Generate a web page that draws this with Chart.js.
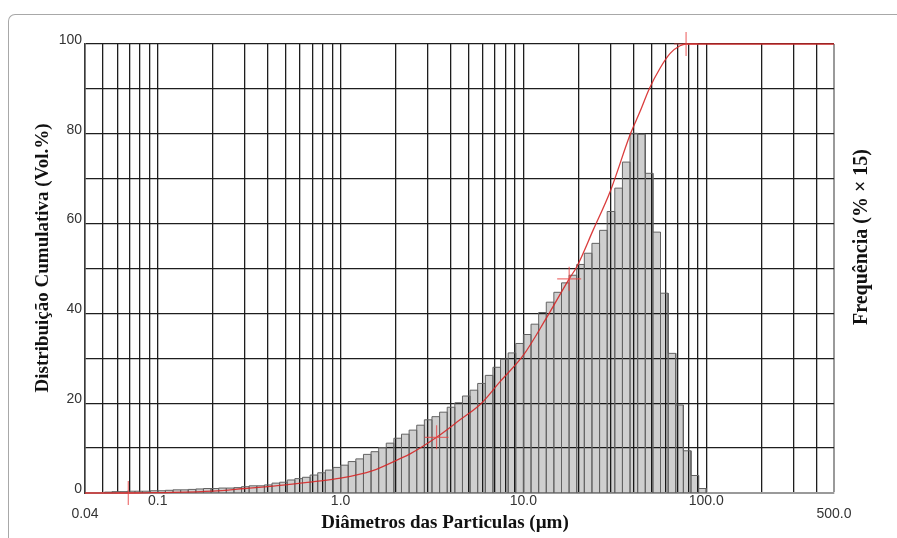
<!DOCTYPE html>
<html>
<head>
<meta charset="utf-8">
<script src="https://cdn.jsdelivr.net/npm/chart.js@4.4.1/dist/chart.umd.min.js"></script>
<style>
  html, body { margin: 0; padding: 0; background: #fff; }
  #wrap { position: relative; width: 897px; height: 538px; overflow: hidden; background: #fff; }
  #frame { position: absolute; left: 8px; top: 14px; width: 1000px; height: 1000px;
           border-top: 1.5px solid #a8a8a8; border-left: 1.5px solid #a8a8a8; border-top-left-radius: 7px; }
  canvas { position: absolute; left: 0; top: 0; }
</style>
</head>
<body>
<div id="wrap">
  <div id="frame"></div>
  <canvas id="c" width="897" height="538"></canvas>
</div>
<script>
// Histogram class edges (µm), 24 classes per decade
const binEdges = [
  0.0511, 0.0562, 0.0619, 0.0681, 0.0750, 0.0825, 0.0909,
  0.1, 0.1101, 0.1212, 0.1334, 0.1468, 0.1616, 0.1778, 0.1957, 0.2154, 0.2371, 0.2610, 0.2873,
  0.3162, 0.3481, 0.3831, 0.4217, 0.4642, 0.5109, 0.5623, 0.6190, 0.6813, 0.7499, 0.8254, 0.9085,
  1.0, 1.101, 1.212, 1.334, 1.468, 1.616, 1.778, 1.957, 2.154, 2.371, 2.610, 2.873,
  3.162, 3.481, 3.831, 4.217, 4.642, 5.109, 5.623, 6.190, 6.813, 7.499, 8.254, 9.085,
  10, 11.01, 12.12, 13.34, 14.68, 16.16, 17.78, 19.57, 21.54, 23.71, 26.10, 28.73,
  31.62, 34.81, 38.31, 42.17, 46.42, 51.09, 56.23, 61.90, 68.13, 74.99, 82.54, 90.85,
  100
];

// Frequency per class (% x 15)
const freq = [
  0.2, 0.3, 0.3, 0.4, 0.4, 0.4, 0.5,
  0.5, 0.6, 0.7, 0.7, 0.8, 0.9, 1.0, 1.0, 1.1, 1.1, 1.2, 1.4,
  1.6, 1.6, 1.8, 2.2, 2.4, 2.9, 3.2, 3.5, 4.0, 4.5, 5.1, 5.7,
  6.2, 7.0, 7.6, 8.6, 9.2, 10.1, 11.1, 12.2, 13.1, 14.0, 15.1, 16.3,
  17.0, 18.0, 19.1, 20.1, 21.6, 22.9, 24.4, 26.2, 28.0, 29.8, 31.2, 33.3,
  35.3, 37.6, 40.2, 42.5, 44.7, 46.8, 48.5, 50.9, 53.4, 55.6, 58.5, 62.7,
  67.9, 73.7, 80.1, 79.9, 71.2, 58.1, 44.5, 31.1, 19.6, 9.4, 3.9, 1.0
];

// Cumulative distribution (Vol.%)
const cumDiam = [0.04, 0.069, 0.1, 0.2, 0.3, 0.5, 0.7, 1.0, 1.5, 2.1, 2.4, 3.35, 4.5, 5.9, 7.45,
                 10, 13.2, 17.8, 19.6, 24.1, 29.8, 38.6, 43.5, 48.9, 55.9, 63.5, 71.9, 77.6, 500];
const cumVol  = [0, 0, 0.1, 0.4, 1.0, 1.8, 2.5, 3.3, 5.0, 7.6, 8.7, 12.4, 16.3, 20.0, 24.8,
                 30.7, 38.6, 47.7, 50.4, 58.6, 67.1, 80.1, 85.0, 90.1, 94.6, 97.9, 99.6, 100, 100];

// Marked points on the cumulative curve
const markDiam = [0.069, 3.35, 17.8, 77.6];
const markVol  = [0, 12.4, 47.7, 100];

// Axis ticks
const xGridTicks = [0.04, 0.05, 0.06, 0.07, 0.08, 0.09, 0.1, 0.2, 0.3, 0.4, 0.5, 0.6, 0.7, 0.8, 0.9,
                    1, 2, 3, 4, 5, 6, 7, 8, 9, 10, 20, 30, 40, 50, 60, 70, 80, 90,
                    100, 200, 300, 400, 500];
const xLabelValues = [0.04, 0.1, 1, 10, 100, 500];
const xLabelTexts  = ['0.04', '0.1', '1.0', '10.0', '100.0', '500.0'];
const xLowRow      = [0.04, 500];
const yLabelValues = [0, 20, 40, 60, 80, 100];

const xTitle = 'Diâmetros das Particulas (µm)';
const yTitle = 'Distribuição Cumulativa (Vol.%)';
const y2Title = 'Frequência (% × 15)';

// Histogram outline: each class becomes a closed step down to zero
const histPoints = [];
for (let i = 0; i < freq.length; i++) {
  histPoints.push({ x: binEdges[i], y: 0 });
  histPoints.push({ x: binEdges[i], y: freq[i] });
  histPoints.push({ x: binEdges[i + 1], y: freq[i] });
  histPoints.push({ x: binEdges[i + 1], y: 0 });
}

const titleFont = (px) => 'bold ' + px + 'px "Liberation Serif", "Times New Roman", serif';

const axisTitles = {
  id: 'axisTitles',
  afterDraw(chart) {
    const { ctx, chartArea: a } = chart;
    ctx.save();
    ctx.fillStyle = '#111';
    ctx.textAlign = 'center';
    ctx.textBaseline = 'middle';
    ctx.font = titleFont(19);
    ctx.fillText(xTitle, a.left + 360, a.bottom + 30);
    ctx.translate(a.left - 42, a.top + 214);
    ctx.rotate(-Math.PI / 2);
    ctx.fillText(yTitle, 0, 0);
    ctx.restore();
    ctx.save();
    ctx.fillStyle = '#111';
    ctx.textAlign = 'center';
    ctx.textBaseline = 'middle';
    ctx.font = titleFont(20);
    ctx.translate(a.right + 28, a.top + 193);
    ctx.rotate(-Math.PI / 2);
    ctx.fillText(y2Title, 0, 0);
    ctx.restore();
  }
};

const tickFont = { family: '"Liberation Sans", Arial, sans-serif', size: 14, lineHeight: 0.93 };

new Chart(document.getElementById('c'), {
  type: 'line',
  data: {
    datasets: [
      {
        label: 'Pontos',
        type: 'scatter',
        data: markDiam.map((x, i) => ({ x, y: markVol[i] })),
        pointStyle: 'cross',
        pointRadius: 12,
        pointBorderWidth: 1.2,
        borderColor: 'rgba(232,70,70,0.75)',
        backgroundColor: 'rgba(232,70,70,0.75)',
        clip: false,
        order: 0
      },
      {
        label: 'Cumulativa',
        data: cumDiam.map((x, i) => ({ x, y: cumVol[i] })),
        borderColor: 'rgba(214,40,40,0.9)',
        borderWidth: 1.3,
        pointRadius: 0,
        cubicInterpolationMode: 'monotone',
        fill: false,
        clip: 2,
        order: 1
      },
      {
        label: 'Frequência',
        data: histPoints,
        borderColor: '#626262',
        borderWidth: 1,
        backgroundColor: 'rgba(0,0,0,0.19)',
        fill: 'origin',
        pointRadius: 0,
        tension: 0,
        order: 2
      }
    ]
  },
  options: {
    responsive: false,
    animation: false,
    events: [],
    layout: { padding: { top: 44, right: 63, left: 0, bottom: 0 } },
    plugins: { legend: { display: false }, tooltip: { enabled: false } },
    scales: {
      x: {
        type: 'logarithmic',
        min: 0.04,
        max: 500,
        bounds: 'data',
        afterBuildTicks: (s) => { s.ticks = xGridTicks.map(v => ({ value: v })); },
        afterFit: (s) => { s.height = 45; },
        grid: {
          drawTicks: false,
          color: (c) => (c.tick && c.tick.value === 500) ? '#9a9a9a' : '#1e1e1e',
          lineWidth: (c) => (c.tick && c.tick.value === 500) ? 2 : 1.3
        },
        border: { display: true, color: '#9a9a9a', width: 2 },
        ticks: {
          autoSkip: false,
          maxRotation: 0,
          minRotation: 0,
          padding: 1.5,
          color: '#333',
          font: tickFont,
          callback: (v) => {
            const k = xLabelValues.indexOf(v);
            if (k < 0) return '';
            return xLowRow.includes(v) ? ['', xLabelTexts[k]] : xLabelTexts[k];
          }
        }
      },
      y: {
        min: 0,
        max: 100,
        afterFit: (s) => { s.width = 85; },
        grid: {
          drawTicks: false,
          color: (c) => (c.tick && c.tick.value === 0) ? '#9a9a9a' : '#1e1e1e',
          lineWidth: (c) => (c.tick && c.tick.value === 0) ? 2 : 1.3
        },
        border: { display: true, color: '#3a3a3a', width: 1.5 },
        ticks: {
          stepSize: 10,
          padding: 3,
          labelOffset: -4,
          color: '#333',
          font: tickFont,
          callback: (v) => yLabelValues.includes(v) ? String(v) : ''
        }
      }
    }
  },
  plugins: [axisTitles]
});
</script>
</body>
</html>
